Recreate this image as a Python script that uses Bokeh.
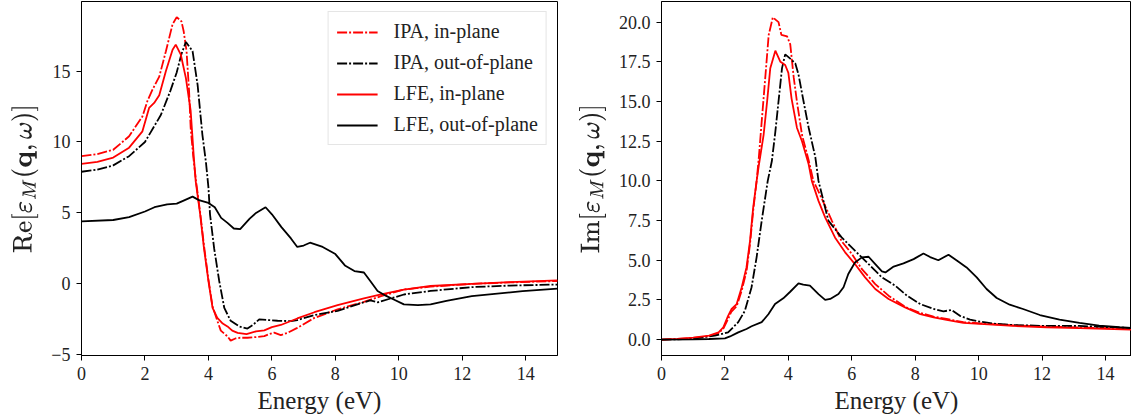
from bokeh.plotting import figure
from bokeh.layouts import row
from bokeh.models import Range1d, FixedTicker, Legend, LegendItem, PrintfTickFormatter
from bokeh.embed import file_html
from bokeh.resources import INLINE

# ---------------- data: real part ----------------
re_ipa_in_E = [0, 0.5, 1.0, 1.5, 1.92, 2.08, 2.24, 2.45, 2.66, 2.87, 3.0, 3.15, 3.22, 3.31, 3.39, 3.44,
               3.52, 3.6, 3.74, 3.86, 4.0, 4.13, 4.28, 4.39, 4.6, 4.7, 4.85, 5.0, 5.23, 5.5, 5.76, 5.9,
               6.07, 6.28, 6.5, 6.8, 7.34, 8.07, 8.9, 9.44, 10.16, 11.0, 12.3, 13.5, 15.0]
re_ipa_in = [9.0, 9.15, 9.45, 10.4, 11.8, 12.9, 13.7, 14.6, 16.4, 18.3, 18.8, 18.5, 17.8, 16.4, 13.6, 11.0,
             9.0, 7.4, 5.0, 2.7, 0.3, -1.6, -2.6, -3.3, -3.7, -4.0, -3.85, -3.8, -3.8, -3.75, -3.68, -3.55,
             -3.44, -3.61, -3.45, -3.1, -2.4, -1.8, -1.27, -0.87, -0.4, -0.2, 0.0, 0.1, 0.2]

re_ipa_out_E = [0, 0.5, 1.0, 1.5, 2.0, 2.5, 2.8, 3.0, 3.15, 3.29, 3.5, 3.66, 3.81, 3.92, 4.0, 4.05, 4.18,
                4.34, 4.5, 4.7, 4.97, 5.23, 5.4, 5.6, 5.9, 6.18, 6.6, 6.8, 7.34, 8.07, 8.9, 9.1, 9.34,
                10.16, 11.0, 12.3, 13.5, 15.0]
re_ipa_out = [7.9, 8.05, 8.35, 9.0, 10.0, 11.9, 13.6, 14.9, 16.2, 17.05, 16.4, 14.0, 10.5, 8.6, 6.8, 4.9,
              2.5, 0.2, -1.7, -2.6, -3.0, -3.15, -2.9, -2.5, -2.55, -2.6, -2.63, -2.55, -2.2, -1.9, -1.3,
              -1.17, -1.3, -0.75, -0.5, -0.23, -0.12, -0.05]

re_lfe_in_E = [0, 0.5, 1.0, 1.5, 1.92, 2.13, 2.29, 2.45, 2.66, 2.87, 2.97, 3.13, 3.29, 3.44, 3.54, 3.6,
               3.74, 3.86, 4.0, 4.13, 4.28, 4.45, 4.6, 4.75, 4.92, 5.2, 5.5, 5.76, 6.0, 6.28, 6.8, 7.34,
               8.07, 8.9, 9.44, 10.16, 11.0, 12.3, 13.5, 15.0]
re_lfe_in = [8.45, 8.6, 8.9, 9.6, 10.75, 12.4, 12.75, 13.3, 15.0, 16.5, 16.86, 16.15, 14.5, 12.2, 8.9, 7.2,
             4.9, 2.5, 0.2, -1.7, -2.4, -2.8, -3.0, -3.3, -3.45, -3.55, -3.35, -3.28, -3.05, -2.9, -2.44,
             -2.0, -1.5, -1.03, -0.75, -0.4, -0.15, 0.0, 0.12, 0.24]

re_lfe_out_E = [0, 1.0, 1.5, 2.0, 2.3, 2.7, 3.0, 3.2, 3.5, 3.7, 4.0, 4.2, 4.4, 4.6, 4.8, 5.0, 5.3, 5.5,
                5.8, 6.0, 6.3, 6.6, 6.8, 7.0, 7.2, 7.6, 8.0, 8.3, 8.6, 8.9, 9.1, 9.33, 9.6, 9.84, 10.16,
                10.6, 11.0, 11.5, 12.3, 13.9, 15.0]
re_lfe_out = [4.41, 4.5, 4.7, 5.1, 5.4, 5.6, 5.65, 5.85, 6.15, 5.9, 5.7, 5.4, 4.65, 4.3, 3.9, 3.85, 4.6,
              5.0, 5.4, 4.9, 4.0, 3.2, 2.6, 2.7, 2.9, 2.6, 2.1, 1.3, 0.9, 0.8, 0.2, -0.5, -0.85, -1.1,
              -1.45, -1.5, -1.45, -1.2, -0.87, -0.52, -0.33]

# ---------------- data: imaginary part ----------------
im_ipa_in_E = [0, 0.5, 1.0, 1.5, 1.8, 1.95, 2.1, 2.2, 2.37, 2.53, 2.68, 2.79, 2.89, 3.0, 3.07, 3.17,
               3.28, 3.38, 3.51, 3.69, 3.78, 3.96, 4.06, 4.17, 4.27, 4.43, 4.64, 4.79, 5.05, 5.37, 5.68,
               6.0, 6.32, 6.74, 7.16, 7.68, 8.16, 8.58, 8.99, 9.52, 10.04, 11.09, 12.14, 13.18, 14.82]
im_ipa_in = [0.0, 0.04, 0.1, 0.22, 0.4, 0.7, 1.3, 1.75, 2.1, 3.1, 4.3, 6.0, 8.1, 10.0, 11.5, 14.0, 16.7,
             19.2, 20.3, 20.0, 19.2, 19.1, 18.6, 16.5, 15.0, 12.9, 11.3, 10.0, 8.9, 7.5, 6.2, 5.4, 4.44,
             3.5, 2.77, 2.07, 1.68, 1.45, 1.3, 1.1, 1.03, 0.9, 0.82, 0.77, 0.68]

im_ipa_out_E = [0, 0.5, 1.0, 1.68, 2.1, 2.42, 2.63, 2.84, 3.0, 3.16, 3.35, 3.48, 3.59, 3.7, 3.8, 3.9,
                4.06, 4.22, 4.32, 4.48, 4.64, 4.85, 4.95, 5.26, 5.68, 6.1, 6.53, 6.95, 7.37, 7.74, 8.16,
                8.58, 8.89, 9.15, 9.41, 9.73, 10.04, 10.57, 11.09, 12.14, 13.18, 14.82]
im_ipa_out = [0.0, 0.02, 0.06, 0.25, 0.46, 1.1, 1.82, 3.3, 5.2, 7.5, 10.0, 11.25, 13.1, 15.2, 17.1, 17.97,
              17.7, 17.4, 16.7, 15.0, 13.35, 11.5, 10.0, 7.5, 6.44, 5.6, 4.76, 3.92, 3.4, 2.77, 2.24,
              1.93, 1.78, 1.87, 1.5, 1.26, 1.13, 0.99, 0.92, 0.86, 0.86, 0.73]

im_lfe_in_E = [0, 0.5, 1.0, 1.5, 1.8, 1.95, 2.1, 2.21, 2.37, 2.53, 2.68, 2.79, 2.89, 3.0, 3.07, 3.22,
               3.33, 3.43, 3.59, 3.75, 3.9, 4.0, 4.1, 4.27, 4.43, 4.64, 4.74, 4.95, 5.16, 5.47, 5.79, 6.1,
               6.42, 6.74, 7.16, 7.68, 8.16, 8.58, 8.99, 9.52, 10.04, 11.09, 12.14, 13.18, 14.82]
im_lfe_in = [0.0, 0.05, 0.12, 0.25, 0.46, 0.78, 1.5, 1.93, 2.24, 3.3, 4.55, 6.2, 8.3, 10.0, 11.0, 12.9,
             15.0, 17.1, 18.2, 17.5, 17.3, 16.8, 15.2, 13.35, 12.5, 11.05, 10.0, 8.74, 7.7, 6.44, 5.5,
             4.76, 3.92, 3.19, 2.56, 2.03, 1.61, 1.4, 1.24, 1.05, 0.99, 0.86, 0.78, 0.73, 0.63]

im_lfe_out_E = [0, 1.0, 1.5, 2.0, 2.16, 2.42, 2.68, 2.84, 3.16, 3.37, 3.58, 3.84, 4.05, 4.32, 4.47, 4.68,
                4.95, 5.16, 5.32, 5.58, 5.74, 5.89, 6.1, 6.32, 6.53, 6.74, 6.95, 7.06, 7.32, 7.63, 7.95,
                8.26, 8.47, 8.73, 9.05, 9.3, 9.62, 9.94, 10.25, 10.57, 10.98, 11.4, 11.93, 12.55, 13.18,
                13.8, 14.44, 14.82]
im_lfe_out = [0.0, 0.02, 0.04, 0.08, 0.2, 0.46, 0.67, 0.84, 1.1, 1.6, 2.24, 2.6, 3.0, 3.55, 3.46, 3.4,
              2.87, 2.5, 2.56, 2.87, 3.3, 4.13, 4.86, 5.18, 5.22, 4.76, 4.3, 4.23, 4.6, 4.8, 5.07, 5.43,
              5.2, 5.0, 5.35, 5.0, 4.55, 3.92, 3.19, 2.62, 2.2, 1.93, 1.55, 1.26, 1.05, 0.88, 0.78, 0.73]

legend_labels = ["IPA, in-plane", "IPA, out-of-plane", "LFE, in-plane", "LFE, out-of-plane"]
x_ticks = [0, 2, 4, 6, 8, 10, 12, 14]
re_ticks = [-5, 0, 5, 10, 15]
im_ticks = [0.0, 2.5, 5.0, 7.5, 10.0, 12.5, 15.0, 17.5, 20.0]

SERIF = "Liberation Serif"
DASHDOT = "10 2 2 2"
LW = 1.8


def make_fig(width, left, right, xr, yr, yticks, ylabel):
    p = figure(width=width, height=418, output_backend="svg", toolbar_location=None,
               x_range=Range1d(*xr), y_range=Range1d(*yr),
               min_border_left=left, min_border_right=right, min_border_top=1, min_border_bottom=63)
    p.grid.visible = False
    p.outline_line_color = "black"
    p.outline_line_width = 1
    p.outline_line_alpha = 1
    p.background_fill_color = "white"
    p.border_fill_color = "white"
    p.xaxis.ticker = FixedTicker(ticks=x_ticks)
    p.yaxis.ticker = FixedTicker(ticks=yticks)
    for ax in (p.xaxis, p.yaxis):
        ax.axis_line_color = "black"
        ax.major_tick_line_color = "black"
        ax.minor_tick_line_color = None
        ax.major_tick_out = 5
        ax.major_tick_in = 0
        ax.major_label_text_font = SERIF
        ax.major_label_text_font_size = "18px"
        ax.major_label_text_color = "#222222"
        ax.axis_label_text_font = SERIF
        ax.axis_label_text_font_size = "25px"
        ax.axis_label_text_font_style = "normal"
        ax.axis_label_text_color = "#222222"
        ax.major_label_standoff = 6
    p.xaxis.axis_label = "Energy (eV)"
    p.xaxis.axis_label_standoff = 4
    p.yaxis.axis_label = ylabel
    p.yaxis.axis_label_standoff = 10
    return p


p1 = make_fig(570, 81, 13, (0, 15), (-5.05, 19.9), re_ticks,
              r"$$\mathrm{Re}[\varepsilon_M(\mathbf{q},\omega)]$$")
p2 = make_fig(561, 91, 0, (0, 14.82), (-1.0, 21.3), im_ticks,
              r"$$\mathrm{Im}[\varepsilon_M(\mathbf{q},\omega)]$$")
p2.yaxis.formatter = PrintfTickFormatter(format="%.1f")

r1 = p1.line(re_ipa_in_E, re_ipa_in, line_color="red", line_width=LW, line_dash=DASHDOT)
r2 = p1.line(re_ipa_out_E, re_ipa_out, line_color="black", line_width=LW, line_dash=DASHDOT)
r3 = p1.line(re_lfe_in_E, re_lfe_in, line_color="red", line_width=LW)
r4 = p1.line(re_lfe_out_E, re_lfe_out, line_color="black", line_width=LW)

p2.line(im_ipa_in_E, im_ipa_in, line_color="red", line_width=LW, line_dash=DASHDOT)
p2.line(im_ipa_out_E, im_ipa_out, line_color="black", line_width=LW, line_dash=DASHDOT)
p2.line(im_lfe_in_E, im_lfe_in, line_color="red", line_width=LW)
p2.line(im_lfe_out_E, im_lfe_out, line_color="black", line_width=LW)

legend = Legend(items=[LegendItem(label=lab, renderers=[r]) for lab, r in zip(legend_labels, [r1, r2, r3, r4])],
                location="top_right")
legend.label_text_font = SERIF
legend.label_text_font_size = "20px"
legend.label_text_color = "#222222"
legend.border_line_color = "#cccccc"
legend.border_line_width = 1
legend.background_fill_alpha = 0.85
legend.glyph_width = 41
legend.glyph_height = 20
legend.label_height = 20
legend.spacing = 8
legend.padding = 8
legend.margin = 10
legend.label_standoff = 16
p1.add_layout(legend)

layout = row(p1, p2)
open("out.html", "w").write(file_html(layout, INLINE))
